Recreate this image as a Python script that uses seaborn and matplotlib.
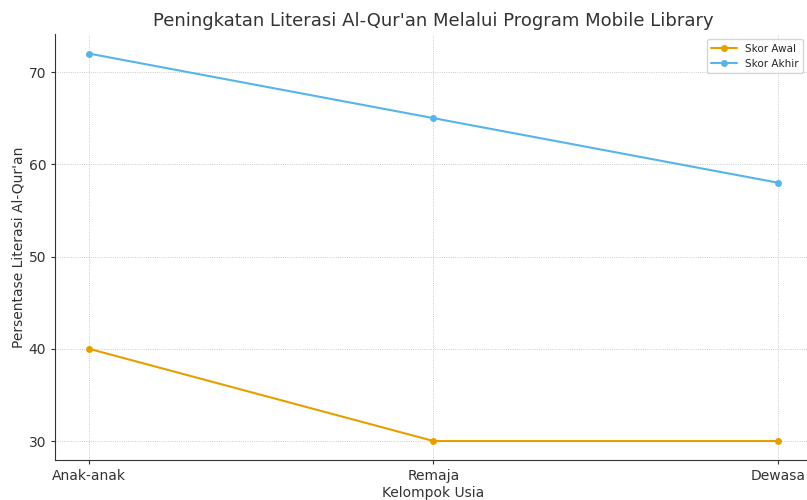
import matplotlib
matplotlib.use("Agg")
import matplotlib.pyplot as plt
import seaborn as sns
import pandas as pd

categories = ["Anak-anak", "Remaja", "Dewasa"]
skor_awal = [40, 30, 30]
skor_akhir = [72, 65, 58]

sns.set_theme(style="white")
plt.rcParams['font.family'] = ['DejaVu Sans']

df = pd.DataFrame({
    "Kelompok Usia": categories * 2,
    "Nilai": skor_awal + skor_akhir,
    "Seri": ["Skor Awal"] * 3 + ["Skor Akhir"] * 3,
})

fig = plt.figure(figsize=(8.07, 5.0), dpi=100)
ax = fig.add_axes([54.5 / 807, 39.6 / 500, 758 / 807, 426.2 / 500])

sns.lineplot(data=df, x="Kelompok Usia", y="Nilai", hue="Seri",
             palette={"Skor Awal": "#E69F00", "Skor Akhir": "#56B4E9"},
             marker="o", markersize=5, markeredgewidth=0, linewidth=1.5,
             sort=False, ax=ax)

ax.set_title("Peningkatan Literasi Al-Qur'an Melalui Program Mobile Library",
             fontsize=13, color="#333333", pad=6)
ax.set_xlabel("Kelompok Usia", fontsize=10, color="#333333", labelpad=2)
ax.set_ylabel("Persentase Literasi Al-Qur'an", fontsize=10, color="#333333", labelpad=2)
ax.set_yticks([30, 40, 50, 60, 70])
ax.tick_params(axis="both", labelsize=10, colors="#333333", length=3, width=0.8, pad=3)
ax.tick_params(axis="both", which="both", left=True, bottom=True)
ax.grid(True, linestyle=":", linewidth=0.6, color="#bbbbbb")
for s in ["top", "right"]:
    ax.spines[s].set_visible(False)
for s in ["left", "bottom"]:
    ax.spines[s].set_color("#333333")
    ax.spines[s].set_linewidth(0.8)

leg = ax.legend(loc="upper right", bbox_to_anchor=(754 / 758, 1.0), fontsize=7.5, frameon=True,
                title=None, handlelength=2.5)
leg.get_frame().set_edgecolor("#cccccc")

fig.savefig("out.png", dpi=100)
